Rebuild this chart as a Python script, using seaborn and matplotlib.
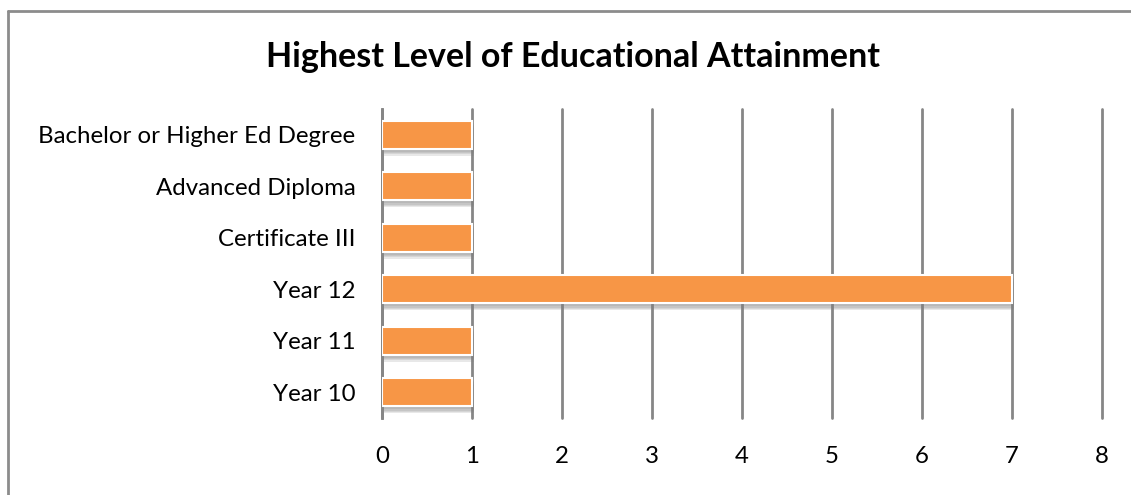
import matplotlib
matplotlib.use("Agg")
import matplotlib.pyplot as plt
import matplotlib.patheffects as pe
import seaborn as sns
import pandas as pd

categories = ["Bachelor or Higher Ed Degree", "Advanced Diploma", "Certificate III",
              "Year 12", "Year 11", "Year 10"]
counts = [1, 1, 1, 7, 1, 1]
x_ticks = [0, 1, 2, 3, 4, 5, 6, 7, 8]

df = pd.DataFrame({"level": categories, "count": counts})

sns.set_theme(style="white")
plt.rcParams["font.family"] = ["Lato", "DejaVu Sans"]

fig = plt.figure(figsize=(11.31, 4.95), dpi=100)
ax = fig.add_axes([382 / 1131, 1 - 418 / 495, 720 / 1131, 309 / 495])

sns.barplot(data=df, x="count", y="level", order=categories, color="#F79646",
            saturation=1, width=0.55, edgecolor="white", linewidth=1.5, ax=ax,
            zorder=3)
# soft drop shadow under each bar
shadow = [pe.SimplePatchShadow(offset=(1.5, -o), shadow_rgbFace="#808080", alpha=0.18)
          for o in (5, 4, 3, 2)]
for bar in ax.patches:
    bar.set_path_effects(shadow + [pe.Normal()])

ax.set_xlim(0, 8)
ax.set_xticks(x_ticks)
ax.set_xticklabels([str(t) for t in x_ticks])
ax.set_ylim(5.5, -0.5)
ax.set_xlabel("")
ax.set_ylabel("")

ax.grid(axis="x", color="#868686", linewidth=2, zorder=0)
ax.grid(axis="y", visible=False)
for line in ax.get_xgridlines():
    line.set_clip_on(False)
for side in ["top", "right", "bottom"]:
    ax.spines[side].set_visible(False)
ax.spines["left"].set_color("#868686")
ax.spines["left"].set_linewidth(2)
ax.tick_params(axis="both", length=0, labelsize=17.3, colors="black")
ax.tick_params(axis="y", pad=19)
ax.tick_params(axis="x", pad=20)

fig.text(573 / 1131, 1 - 57 / 495, "Highest Level of Educational Attainment",
         ha="center", va="center", fontsize=24.5, fontweight="bold", color="black")

# chart frame (top and left edges visible)
fig.add_artist(plt.Line2D([7.5 / 1131, 1.0], [1 - 10.5 / 495, 1 - 10.5 / 495],
                          transform=fig.transFigure, color="#8c8c8c", linewidth=2))
fig.add_artist(plt.Line2D([7.5 / 1131, 7.5 / 1131], [0.0, 1 - 10.5 / 495],
                          transform=fig.transFigure, color="#8c8c8c", linewidth=2))

fig.savefig("out.png", dpi=100, facecolor="white")
